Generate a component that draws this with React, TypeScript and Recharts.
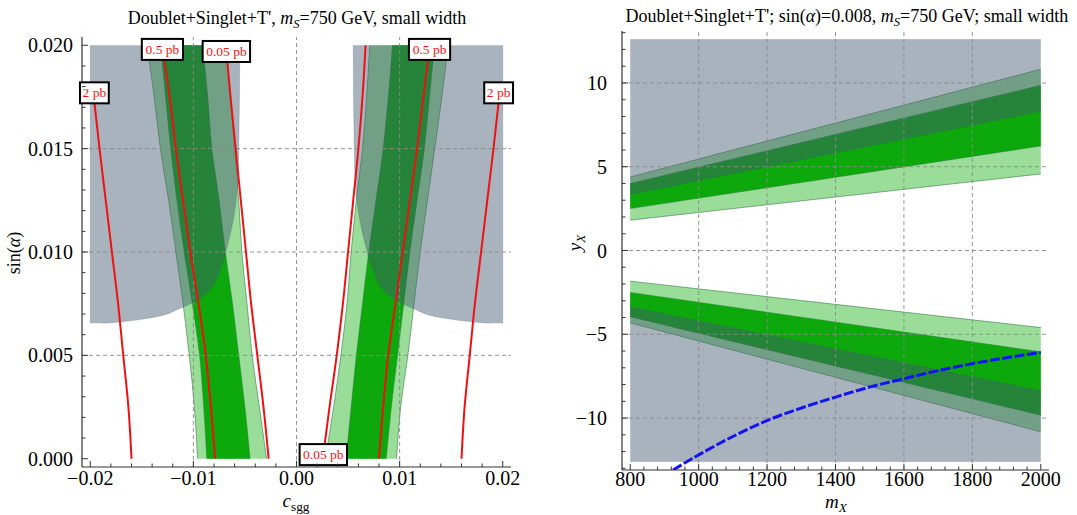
import React from "react";
import { ComposedChart, Area, Line, XAxis, YAxis, ReferenceLine, ReferenceDot } from "recharts";

const FONT = '"Liberation Serif","Times New Roman",Times,serif';
const LIGHT = "#99dd99";
const BRIGHT = "#0ca80c";
const EDGE = "#2f6f3f";
const GRAY = "rgb(68,90,114)";
const FRAME = "#333";
const RED = "#ee1111";
const BLUE = "#1414f0";

// ---------------- Left panel (c_sgg vs sin(alpha)) ----------------
const bandY = [0, 0.0025, 0.005, 0.0075, 0.01, 0.0125, 0.015, 0.0175, 0.02];
const negOuterL = [-0.0096, -0.0099, -0.0104, -0.011, -0.0117, -0.0124, -0.0132, -0.0138, -0.0145];
const negOuterR = [-0.0029, -0.0036, -0.0043, -0.0048, -0.0053, -0.0056, -0.006, -0.0064, -0.0068];
const negInnerL = [-0.0087, -0.009, -0.0094, -0.0101, -0.0109, -0.0116, -0.0122, -0.0127, -0.0132];
const negInnerR = [-0.0045, -0.005, -0.0056, -0.0062, -0.0069, -0.0075, -0.0082, -0.0086, -0.0091];
const posOuterL = [0.0028, 0.0036, 0.0043, 0.0049, 0.0053, 0.0058, 0.0064, 0.0068, 0.0071];
const posOuterR = [0.0097, 0.0101, 0.0108, 0.0114, 0.012, 0.0127, 0.0134, 0.0141, 0.0147];
const posInnerL = [0.0048, 0.0053, 0.0058, 0.0064, 0.007, 0.0077, 0.0084, 0.0089, 0.0093];
const posInnerR = [0.0087, 0.0092, 0.0098, 0.0104, 0.011, 0.0117, 0.0124, 0.0129, 0.0134];

const grayY = [0.00655, 0.00662, 0.00682, 0.00727, 0.00816, 0.00913, 0.0101, 0.0133, 0.015, 0.02];
const grayNegEdge = [-0.0188, -0.0171, -0.0141, -0.0113, -0.0084, -0.0074, -0.0068, -0.0057, -0.0056, -0.0055];
const grayPosEdge = [0.0188, 0.0171, 0.0141, 0.0113, 0.0084, 0.0074, 0.0068, 0.0057, 0.0056, 0.0055];
const grayNegOuter = -0.02;
const grayPosOuter = 0.02;

const red2Y = [0, 0.0025, 0.005, 0.0075, 0.01, 0.0125, 0.015, 0.0177];
const red2Neg = [-0.016, -0.0163, -0.0168, -0.0173, -0.0179, -0.0185, -0.0191, -0.0197];
const red2Pos = [0.016, 0.0163, 0.0168, 0.0173, 0.0179, 0.0185, 0.0191, 0.0197];
const red05Y = [0, 0.0025, 0.005, 0.0075, 0.01, 0.0125, 0.015, 0.0175, 0.0198];
const red05Neg = [-0.0079, -0.0083, -0.0088, -0.0095, -0.0103, -0.011, -0.0117, -0.0123, -0.013];
const red05Pos = [0.008, 0.0084, 0.0089, 0.0096, 0.0103, 0.011, 0.0117, 0.0123, 0.0129];
const red005NegY = [0, 0.0025, 0.005, 0.0075, 0.01, 0.0125, 0.015, 0.0175, 0.0197];
const red005Neg = [-0.0027, -0.0032, -0.0038, -0.0044, -0.0049, -0.0054, -0.0059, -0.0064, -0.0068];
const red005PosY = [0.0002, 0.0025, 0.005, 0.0075, 0.01, 0.0125, 0.015, 0.0175, 0.02];
const red005Pos = [0.0026, 0.0032, 0.0039, 0.0045, 0.005, 0.0055, 0.006, 0.0064, 0.0067];

const labelText = ["0.5 pb", "0.05 pb", "2 pb", "0.5 pb", "2 pb", "0.05 pb"];
const labelX = [-0.013, -0.0068, -0.0196, 0.0129, 0.0196, 0.0026];
const labelY = [0.0198, 0.0197, 0.0177, 0.0198, 0.0177, 0.0002];

const leftXMajor = [-0.02, -0.01, 0, 0.01, 0.02];
const leftXLabels = ["\u22120.02", "\u22120.01", "0.00", "0.01", "0.02"];
const leftYMajor = [0, 0.005, 0.01, 0.015, 0.02];
const leftYLabels = ["0.000", "0.005", "0.010", "0.015", "0.020"];
const leftGridX = [-0.01, 0, 0.01];
const leftGridY = [0.005, 0.01, 0.015];

// ---------------- Right panel (m_X vs y_X) ----------------
const mX = [800, 2000];
const upOuterLo = [1.81, 4.57];
const upOuterHi = [4.39, 10.82];
const upInnerLo = [2.5, 6.24];
const upInnerHi = [4.0, 9.86];
const upGrayLo = [3.34, 8.31];
const loOuterLo = [-4.32, -10.82];
const loOuterHi = [-1.83, -4.6];
const loInnerLo = [-3.96, -9.83];
const loInnerHi = [-2.5, -6.05];
const loGrayHi = [-3.36, -8.37];
const grayTop = 12.6;
const grayBottom = -12.6;
const blueX = [925, 1000, 1100, 1200, 1300, 1400, 1500, 1600, 1700, 1800, 1900, 2000];
const blueY = [-13.1, -12.2, -11.1, -10.15, -9.4, -8.75, -8.15, -7.65, -7.17, -6.75, -6.4, -6.08];

const rightXMajor = [800, 1000, 1200, 1400, 1600, 1800, 2000];
const rightXLabels = ["800", "1000", "1200", "1400", "1600", "1800", "2000"];
const rightYMajor = [-10, -5, 0, 5, 10];
const rightYLabels = ["\u221210", "\u22125", "0", "5", "10"];
const rightGridX = [1000, 1200, 1400, 1600, 1800];
const rightGridY = [-10, -5, 0, 5, 10];

// ---------------- helpers ----------------
const steps = (a: number, b: number, s: number) => {
  const out: number[] = [];
  const n = Math.round((b - a) / s);
  for (let i = 0; i <= n; i++) out.push(+(a + i * s).toFixed(6));
  return out;
};
const vBand = (ys: number[], lo: number[], hi: number[]) => ys.map((y, i) => ({ y, v: [lo[i], hi[i]] }));
const vBandConst = (ys: number[], lo: number, hi: number[]) => ys.map((y, i) => ({ y, v: [lo, hi[i]] }));
const vBandConstR = (ys: number[], lo: number[], hi: number) => ys.map((y, i) => ({ y, v: [lo[i], hi] }));
const vLine = (ys: number[], xs: number[]) => ys.map((y, i) => ({ y, x: xs[i] }));
const hBand = (xs: number[], lo: number[], hi: number[]) => xs.map((x, i) => ({ x, v: [lo[i], hi[i]] }));
const hLine = (xs: number[], ys: number[]) => xs.map((x, i) => ({ x, y: ys[i] }));

type Side = "bottom" | "top" | "left" | "right";
function makeTick(side: Side, majors: number[], labels: string[] | null, gap: number) {
  return (props: any) => {
    const { x, y, payload } = props;
    const v = payload.value as number;
    const idx = majors.findIndex((m) => Math.abs(m - v) < 1e-9);
    const len = idx >= 0 ? 6 : 3.5;
    let x2 = x;
    let y2 = y;
    if (side === "bottom") y2 = y - len;
    if (side === "top") y2 = y + len;
    if (side === "left") x2 = x + len;
    if (side === "right") x2 = x - len;
    let label: any = null;
    if (labels && idx >= 0) {
      if (side === "bottom")
        label = (
          <text x={x} y={y + gap} textAnchor="middle" fontSize={20} fontFamily={FONT} fill="#000">
            {labels[idx]}
          </text>
        );
      if (side === "left")
        label = (
          <text x={x - gap} y={y + 7} textAnchor="end" fontSize={20} fontFamily={FONT} fill="#000">
            {labels[idx]}
          </text>
        );
    }
    return (
      <g>
        <line x1={x} y1={y} x2={x2} y2={y2} stroke={FRAME} strokeWidth={1} />
        {label}
      </g>
    );
  };
}

const boxLabel = (text: string) => (p: any) => {
  const w = text.length * 6.2 + 4;
  return (
    <g>
      <rect x={p.cx - w / 2} y={p.cy - 10.5} width={w} height={21} fill="#fff" stroke="#000" strokeWidth={2} />
      <text x={p.cx} y={p.cy + 4.5} textAnchor="middle" fontSize={13.5} fontFamily={FONT} fill="#ff1010">
        {text}
      </text>
    </g>
  );
};

const frameLine = { stroke: FRAME, strokeWidth: 1.2 };
const gridStyle = { stroke: "#8a8a8a", strokeDasharray: "4 3", strokeWidth: 0.9 };

function LeftChart() {
  const xTicks = steps(-0.02, 0.02, 0.002);
  const yTicks = steps(0, 0.02, 0.001);
  const xd: [number, number] = [-0.0208, 0.0208];
  const yd: [number, number] = [-0.0004, 0.0204];
  const common = { isAnimationActive: false, dot: false, activeDot: false, xAxisId: "b", yAxisId: "l" } as any;
  return (
    <ComposedChart layout="vertical" width={540} height={515} margin={{ top: 37, right: 29, bottom: 0, left: 0 }}>
      <XAxis xAxisId="b" type="number" orientation="bottom" domain={xd} allowDataOverflow ticks={xTicks} interval={0}
        tickSize={0} tickMargin={0} height={48} axisLine={frameLine} tickLine={false}
        tick={makeTick("bottom", leftXMajor, leftXLabels, 18)} />
      <XAxis xAxisId="t" type="number" orientation="top" domain={xd} allowDataOverflow ticks={xTicks} interval={0}
        tickSize={0} tickMargin={0} height={0} axisLine={frameLine} tickLine={false}
        tick={makeTick("top", leftXMajor, null, 0)} />
      <YAxis yAxisId="l" type="number" dataKey="y" reversed domain={yd} allowDataOverflow ticks={yTicks} interval={0}
        tickSize={0} tickMargin={0} width={82} axisLine={frameLine} tickLine={false}
        tick={makeTick("left", leftYMajor, leftYLabels, 9)} />
      <YAxis yAxisId="r" type="number" orientation="right" reversed domain={yd} allowDataOverflow ticks={yTicks} interval={0}
        tickSize={0} tickMargin={0} width={0} axisLine={frameLine} tickLine={false}
        tick={makeTick("right", leftYMajor, null, 0)} />

      <Area {...common} data={vBand(bandY, negOuterL, negOuterR)} dataKey="v" type="monotone" fill={LIGHT} fillOpacity={1} stroke={EDGE} strokeOpacity={0.7} strokeWidth={0.8} />
      <Area {...common} data={vBand(bandY, posOuterL, posOuterR)} dataKey="v" type="monotone" fill={LIGHT} fillOpacity={1} stroke={EDGE} strokeOpacity={0.7} strokeWidth={0.8} />
      <Area {...common} data={vBand(bandY, negInnerL, negInnerR)} dataKey="v" type="monotone" fill={BRIGHT} fillOpacity={1} stroke={EDGE} strokeOpacity={0.6} strokeWidth={0.7} />
      <Area {...common} data={vBand(bandY, posInnerL, posInnerR)} dataKey="v" type="monotone" fill={BRIGHT} fillOpacity={1} stroke={EDGE} strokeOpacity={0.6} strokeWidth={0.7} />
      <Area {...common} data={vBandConst(grayY, grayNegOuter, grayNegEdge)} dataKey="v" type="monotone" fill={GRAY} fillOpacity={0.46} stroke={GRAY} strokeOpacity={0.3} strokeWidth={0.8} />
      <Area {...common} data={vBandConstR(grayY, grayPosEdge, grayPosOuter)} dataKey="v" type="monotone" fill={GRAY} fillOpacity={0.46} stroke={GRAY} strokeOpacity={0.3} strokeWidth={0.8} />

      {leftGridX.map((v) => (
        <ReferenceLine key={"gx" + v} xAxisId="b" yAxisId="l" x={v} {...gridStyle} />
      ))}
      {leftGridY.map((v) => (
        <ReferenceLine key={"gy" + v} xAxisId="b" yAxisId="l" y={v} {...gridStyle} />
      ))}

      <Line {...common} data={vLine(red2Y, red2Neg)} dataKey="x" type="monotone" stroke={RED} strokeWidth={2} />
      <Line {...common} data={vLine(red2Y, red2Pos)} dataKey="x" type="monotone" stroke={RED} strokeWidth={2} />
      <Line {...common} data={vLine(red05Y, red05Neg)} dataKey="x" type="monotone" stroke={RED} strokeWidth={2} />
      <Line {...common} data={vLine(red05Y, red05Pos)} dataKey="x" type="monotone" stroke={RED} strokeWidth={2} />
      <Line {...common} data={vLine(red005NegY, red005Neg)} dataKey="x" type="monotone" stroke={RED} strokeWidth={2} />
      <Line {...common} data={vLine(red005PosY, red005Pos)} dataKey="x" type="monotone" stroke={RED} strokeWidth={2} />

      {labelText.map((t, i) => (
        <ReferenceDot key={"lb" + i} xAxisId="b" yAxisId="l" x={labelX[i]} y={labelY[i]} r={0} ifOverflow="visible" shape={boxLabel(t)} />
      ))}
    </ComposedChart>
  );
}

function RightChart() {
  const xTicks = steps(800, 2000, 40);
  const yTicks = steps(-13, 13, 1);
  const xd: [number, number] = [776, 2024];
  const yd: [number, number] = [-13.1, 13.1];
  const common = { isAnimationActive: false, dot: false, activeDot: false, xAxisId: "b", yAxisId: "l" } as any;
  return (
    <ComposedChart width={537} height={515} margin={{ top: 31, right: 28, bottom: 0, left: 0 }}>
      <XAxis xAxisId="b" type="number" dataKey="x" orientation="bottom" domain={xd} allowDataOverflow ticks={xTicks} interval={0}
        tickSize={0} tickMargin={0} height={45} axisLine={frameLine} tickLine={false}
        tick={makeTick("bottom", rightXMajor, rightXLabels, 16)} />
      <XAxis xAxisId="t" type="number" orientation="top" domain={xd} allowDataOverflow ticks={xTicks} interval={0}
        tickSize={0} tickMargin={0} height={0} axisLine={frameLine} tickLine={false}
        tick={makeTick("top", rightXMajor, null, 0)} />
      <YAxis yAxisId="l" type="number" domain={yd} allowDataOverflow ticks={yTicks} interval={0}
        tickSize={0} tickMargin={0} width={82} axisLine={frameLine} tickLine={false}
        tick={makeTick("left", rightYMajor, rightYLabels, 15)} />
      <YAxis yAxisId="r" type="number" orientation="right" domain={yd} allowDataOverflow ticks={yTicks} interval={0}
        tickSize={0} tickMargin={0} width={0} axisLine={frameLine} tickLine={false}
        tick={makeTick("right", rightYMajor, null, 0)} />

      <Area {...common} data={hBand(mX, upOuterLo, upOuterHi)} dataKey="v" type="linear" fill={LIGHT} fillOpacity={1} stroke={EDGE} strokeOpacity={0.7} strokeWidth={0.8} />
      <Area {...common} data={hBand(mX, loOuterLo, loOuterHi)} dataKey="v" type="linear" fill={LIGHT} fillOpacity={1} stroke={EDGE} strokeOpacity={0.7} strokeWidth={0.8} />
      <Area {...common} data={hBand(mX, upInnerLo, upInnerHi)} dataKey="v" type="linear" fill={BRIGHT} fillOpacity={1} stroke={EDGE} strokeOpacity={0.6} strokeWidth={0.7} />
      <Area {...common} data={hBand(mX, loInnerLo, loInnerHi)} dataKey="v" type="linear" fill={BRIGHT} fillOpacity={1} stroke={EDGE} strokeOpacity={0.6} strokeWidth={0.7} />
      <Area {...common} data={hBand(mX, upGrayLo, [grayTop, grayTop])} dataKey="v" type="linear" fill={GRAY} fillOpacity={0.46} stroke={GRAY} strokeOpacity={0.3} strokeWidth={0.8} />
      <Area {...common} data={hBand(mX, [grayBottom, grayBottom], loGrayHi)} dataKey="v" type="linear" fill={GRAY} fillOpacity={0.46} stroke={GRAY} strokeOpacity={0.3} strokeWidth={0.8} />

      {rightGridX.map((v) => (
        <ReferenceLine key={"gx" + v} xAxisId="b" yAxisId="l" x={v} {...gridStyle} />
      ))}
      {rightGridY.map((v) => (
        <ReferenceLine key={"gy" + v} xAxisId="b" yAxisId="l" y={v} {...gridStyle} />
      ))}

      <Line {...common} data={hLine(blueX, blueY)} dataKey="y" type="monotone" stroke={BLUE} strokeWidth={3} strokeDasharray="10 2.5" />
    </ComposedChart>
  );
}

const sub = { fontSize: "0.7em", verticalAlign: "-0.3em", fontStyle: "italic" } as React.CSSProperties;
const subUp = { fontSize: "0.7em", verticalAlign: "-0.3em" } as React.CSSProperties;

export default function App() {
  return (
    <div style={{ position: "absolute", left: 0, top: 0, width: 1077, height: 515, background: "#fff", fontFamily: FONT, color: "#000" }}>
      <div style={{ position: "absolute", left: 0, top: 0 }}>
        <LeftChart />
      </div>
      <div style={{ position: "absolute", left: 540, top: 0 }}>
        <RightChart />
      </div>

      <div style={{ position: "absolute", left: 47, width: 500, top: 7, textAlign: "center", fontSize: 18, lineHeight: "22px", whiteSpace: "nowrap" }}>
        Doublet+Singlet+T', <i>m</i><span style={sub}>S</span>=750 GeV, small width
      </div>
      <div style={{ position: "absolute", left: 597, width: 500, top: 5, textAlign: "center", fontSize: 18, lineHeight: "22px", whiteSpace: "nowrap" }}>
        Doublet+Singlet+T'; sin(<i>α</i>)=0.008, <i>m</i><span style={sub}>S</span>=750 GeV; small width
      </div>

      <div style={{ position: "absolute", left: 14, top: 253, fontSize: 18, lineHeight: "20px", whiteSpace: "nowrap", transform: "translate(-50%,-50%) rotate(-90deg)" }}>
        sin(<i>α</i>)
      </div>
      <div style={{ position: "absolute", left: 296, top: 504, fontSize: 19, lineHeight: "20px", whiteSpace: "nowrap", transform: "translate(-50%,-50%)" }}>
        <i>c</i><span style={subUp}>sgg</span>
      </div>
      <div style={{ position: "absolute", left: 578, top: 243, fontSize: 19, lineHeight: "20px", whiteSpace: "nowrap", transform: "translate(-50%,-50%) rotate(-90deg)" }}>
        <i>y</i><span style={sub}>X</span>
      </div>
      <div style={{ position: "absolute", left: 836, top: 505, fontSize: 19, lineHeight: "20px", whiteSpace: "nowrap", transform: "translate(-50%,-50%)" }}>
        <i>m</i><span style={sub}>X</span>
      </div>
    </div>
  );
}
